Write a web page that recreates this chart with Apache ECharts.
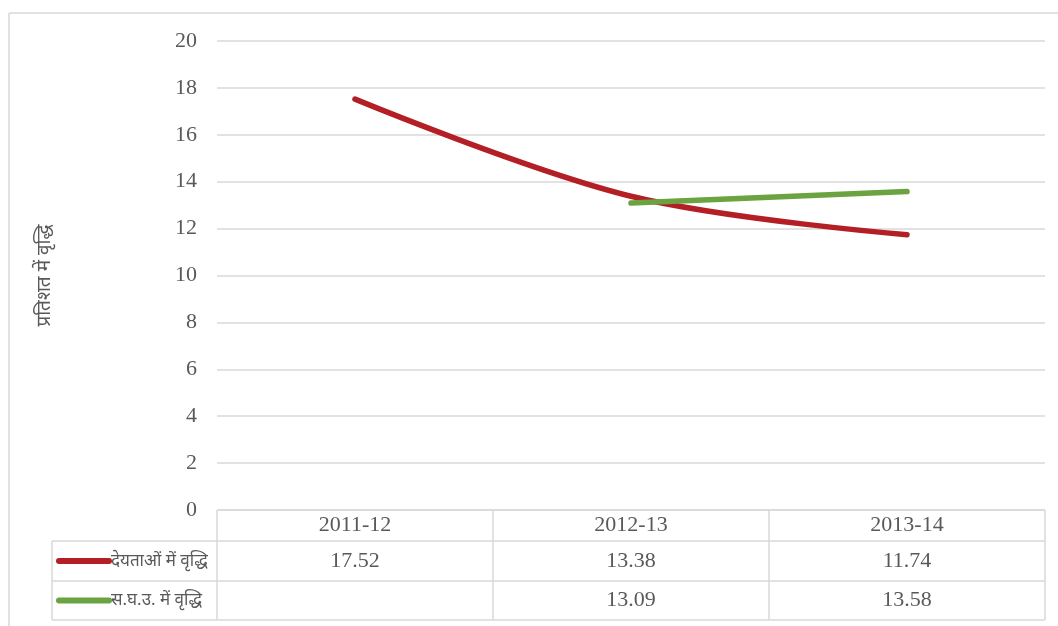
<!DOCTYPE html>
<html>
<head>
<meta charset="utf-8">
<script src="https://cdn.jsdelivr.net/npm/echarts@6/dist/echarts.min.js"></script>
<style>
html, body { margin: 0; padding: 0; background: #fff; }
#chart { width: 1058px; height: 626px; }
</style>
</head>
<body>
<div id="chart"></div>
<script>
var years = ['2011-12', '2012-13', '2013-14'];
var liabGrowth = [17.52, 13.38, 11.74];
var gdpGrowth = [null, 13.09, 13.58];
var seriesNames = ['देयताओं में वृद्धि', 'स.घ.उ. में वृद्धि'];
var seriesColors = ['#B31F24', '#6AA340'];
var yName = 'प्रतिशत में वृद्धि';

var textFont = '"Liberation Serif", "Times New Roman", serif';
var gray = '#595959';
var lineGray = '#D9D9D9';

var chart = echarts.init(document.getElementById('chart'));

// 表格格子：不是数据点，只是框线
var L = 217, R = 1045, T = 510, rows = [541, 581, 620], keyLeft = 52;
var colW = (R - L) / years.length;
var tableLines = [];
function seg(x1, y1, x2, y2) {
	tableLines.push({
		type: 'line', silent: true,
		shape: { x1: x1, y1: y1, x2: x2, y2: y2 },
		style: { stroke: lineGray, lineWidth: 1.5 }
	});
}
seg(L, T, L, rows[2]);
for (var i = 1; i <= years.length; i++) seg(L + colW * i, T, L + colW * i, rows[2]);
seg(L, T, R, T);
rows.forEach(function(y) { seg(keyLeft, y, R, y) });
seg(keyLeft, rows[0], keyLeft, rows[2]);
// 外框
seg(9, 13, 1058, 13);
seg(9, 13, 9, 626);

var legendKeys = [];
seriesNames.forEach(function(n, k) {
	var cy = (rows[k] + rows[k + 1]) / 2;
	legendKeys.push({
		type: 'line', silent: true,
		shape: { x1: 59, y1: cy, x2: 109, y2: cy },
		style: { stroke: seriesColors[k], lineWidth: 6, lineCap: 'round' }
	});
	legendKeys.push({
		type: 'text', silent: true, x: 111, y: cy,
		style: { text: n, fill: gray, font: '17px "Noto Sans", sans-serif', verticalAlign: 'middle' }
	});
});

function valueAxis(vals, off) {
	return {
		type: 'category', data: years, position: 'bottom', offset: off,
		boundaryGap: true,
		axisLine: { show: false }, axisTick: { show: false }, splitLine: { show: false },
		axisLabel: {
			color: gray, fontFamily: textFont, fontSize: 22, margin: 0,
			verticalAlign: 'middle',
			formatter: function(v, idx) { return vals[idx] == null ? '' : vals[idx].toFixed(2) }
		}
	};
}

chart.setOption({
	animation: false,
	grid: { left: L, right: 1058 - R, top: 41, bottom: 626 - T },
	xAxis: [{
		type: 'category', data: years, boundaryGap: true,
		axisLine: { show: false }, axisTick: { show: false },
		axisLabel: { color: gray, fontFamily: textFont, fontSize: 22, margin: 15, verticalAlign: 'middle' }
	},
	valueAxis(liabGrowth, (rows[0] + rows[1]) / 2 - T),
	valueAxis(gdpGrowth, (rows[1] + rows[2]) / 2 - T)],
	yAxis: {
		type: 'value', min: 0, max: 20, interval: 2,
		name: yName, nameLocation: 'middle', nameGap: 163, nameRotate: 90,
		nameTextStyle: { color: gray, fontSize: 19, fontFamily: '"Noto Sans", sans-serif' },
		axisLine: { show: false }, axisTick: { show: false },
		axisLabel: { color: gray, fontFamily: textFont, fontSize: 22, margin: 20 },
		splitLine: { lineStyle: { color: lineGray, width: 1.5 } }
	},
	series: [{
		name: seriesNames[0], type: 'line', data: liabGrowth, smooth: 0.35,
		symbol: 'none', lineStyle: { color: seriesColors[0], width: 5.5, cap: 'round' }, z: 2
	}, {
		name: seriesNames[1], type: 'line', data: gdpGrowth, connectNulls: false,
		symbol: 'none', lineStyle: { color: seriesColors[1], width: 5.5, cap: 'round' }, z: 3
	}],
	graphic: tableLines.concat(legendKeys)
});
</script>
</body>
</html>
